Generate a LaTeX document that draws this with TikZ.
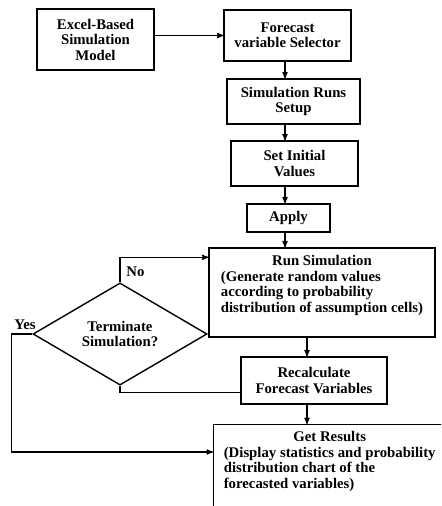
\documentclass[tikz,border=0pt]{standalone}
\usepackage{fontspec}
\setmainfont{Liberation Serif}
\usetikzlibrary{arrows,shapes.geometric}

\begin{document}
\begin{tikzpicture}[x=0.03cm,y=-0.03cm,
  txt/.style={font=\fontsize{12.6}{13.2}\selectfont\bfseries},
  box/.style={draw,txt,line width=1.2pt,inner sep=2pt,align=center},
  decision/.style={draw,txt,diamond,line width=1.2pt,inner sep=0pt,align=center,
    minimum width=5.22cm,minimum height=2.88cm}]
\useasboundingbox (0,0) rectangle (441,506);
\clip (0,0) rectangle (441,506);
\coordinate (ax) at (285,0);
\coordinate (bx) at (307,0);

  \node[box, minimum width=3.51cm, minimum height=1.83cm] (A) at (95.5,39.5)  {Excel-Based\\Simulation\\Model};
  \node[box, minimum width=3.81cm, minimum height=1.53cm] (B) at (287.5,35.5) {Forecast\\variable Selector};
  \node[box, minimum width=3.99cm, minimum height=1.35cm] (C) at (293.5,101.5) {Simulation Runs\\Setup};
  \node[box, minimum width=3.81cm, minimum height=1.35cm] (D) at (294.5,163.5) {Set Initial\\Values};
  \node[box, minimum width=2.49cm, minimum height=0.84cm] (E) at (288.5,218)   {Apply};
  \node[box, minimum width=6.78cm, minimum height=2.67cm] (R) at (322,292.5)
    {\begin{tabular}{@{}l@{}}\multicolumn{1}{@{}c@{}}{Run Simulation}\\(Generate random values\\according to probability\\distribution of assumption cells)\\[0.39cm]\end{tabular}};
  \node[decision]                                        (T) at (120,334)    {Terminate\\Simulation?};
  \node[box, minimum width=4.38cm, minimum height=1.41cm] (F) at (314,380.5)  {Recalculate\\Forecast Variables};
  \node[box, minimum width=6.96cm, minimum height=2.7cm, anchor=north west] (G) at (213,424)
    {\begin{tabular}{@{}l@{}}\multicolumn{1}{@{}c@{}}{Get Results}\\(Display statistics and probability\\distribution chart of the\\forecasted variables)\\[0.48cm]\end{tabular}};
  \node[txt] (no)  at (135.5,272) {No};
  \node[txt] (yes) at (25,325)    {Yes};

  \path[->,>=stealth', line width=1pt]
        (A.east |- B.west) edge (B.west)
        (B.south -| ax) edge (C.north -| ax)
        (C.south -| ax) edge (D.north -| ax)
        (D.south -| ax) edge (E.north -| ax)
        (E.south -| ax) edge (R.north -| ax)
        (R.south -| bx) edge (F.north -| bx)
        (F.south -| bx) edge (G.north -| bx);

  \draw[->,>=stealth', line width=1pt] (T.north) |- ([yshift=-0.3cm]R.north west);
  \draw[->,>=stealth', line width=1pt] (T.west) -- ++(-21,0) |- ([yshift=-0.84cm]G.north west);
  \draw[line width=1pt] ([yshift=-0.35cm]F.west) -| (T.south);
\end{tikzpicture}
\end{document}
